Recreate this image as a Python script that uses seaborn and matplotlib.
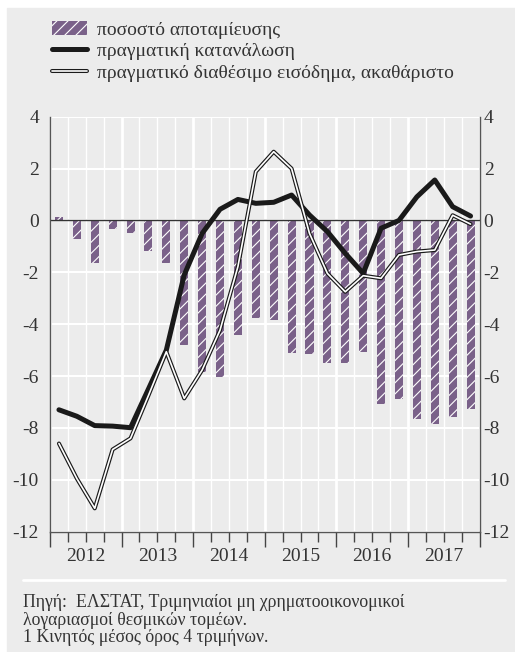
import numpy as np
import pandas as pd
import seaborn as sns
from matplotlib import pyplot as plt
from matplotlib.patches import Patch, Rectangle
from matplotlib.lines import Line2D
from matplotlib.legend_handler import HandlerTuple

years = [2012, 2013, 2014, 2015, 2016, 2017]
quarters = [f"{y}Q{q}" for y in years for q in range(1, 5)]

# ποσοστό αποταμίευσης
saving_rate = [0.15, -0.72, -1.65, -0.32, -0.47, -1.17, -1.65, -4.8,
               -5.83, -6.03, -4.42, -3.77, -3.84, -5.12, -5.16, -5.51,
               -5.51, -5.06, -7.09, -6.9, -7.67, -7.86, -7.57, -7.28]
# πραγματική κατανάλωση
consumption = [-7.3, -7.55, -7.91, -7.93, -7.99, -6.5, -5.0, -2.1,
               -0.5, 0.43, 0.81, 0.66, 0.70, 0.98, 0.21, -0.43,
               -1.27, -2.04, -0.3, 0.0, 0.91, 1.56, 0.53, 0.17]
# πραγματικό διαθέσιμο εισόδημα, ακαθάριστο
income = [-8.6, -9.95, -11.1, -8.83, -8.4, -6.75, -5.06, -6.86,
          -5.77, -4.23, -1.78, 1.88, 2.65, 2.0, -0.5, -2.04,
          -2.75, -2.13, -2.23, -1.33, -1.2, -1.14, 0.2, -0.14]

labels = ["ποσοστό αποταμίευσης", "πραγματική κατανάλωση",
          "πραγματικό διαθέσιμο εισόδημα, ακαθάριστο"]
footer = ["Πηγή:  ΕΛΣΤΑΤ, Τριμηνιαίοι μη χρηματοοικονομικοί",
          "λογαριασμοί θεσμικών τομέων.",
          "1 Κινητός μέσος όρος 4 τριμήνων."]

bg = "#ececec"
purple = "#7a6189"
txt = "#333333"

sns.set_theme(style="white")
plt.rcParams['font.family'] = ['Liberation Serif', 'DejaVu Serif']
plt.rcParams['axes.unicode_minus'] = False
plt.rcParams['hatch.linewidth'] = 0.8

df = pd.DataFrame({"pos": np.arange(len(quarters)), "quarter": quarters,
                   "saving": saving_rate, "consumption": consumption, "income": income})

fig = plt.figure(figsize=(5.15, 6.52), dpi=100)
fig.patches.append(Rectangle((7 / 515, 0), 1, 1 - 8 / 652, transform=fig.transFigure,
                             color=bg, zorder=-5))
ax = fig.add_axes([50 / 515, 1 - 531.7 / 652, 429.5 / 515, 415 / 652])
ax.set_facecolor(bg)
ax.set_axisbelow(True)

sns.barplot(data=df, x="pos", y="saving", native_scale=True, color=purple, saturation=1,
            width=0.45, hatch="///", edgecolor="white", linewidth=0, ax=ax)
ax.axhline(0, color="#333333", lw=1, zorder=1.5)
sns.lineplot(data=df, x="pos", y="consumption", color="#1a1a1a", lw=3.6, ax=ax)
sns.lineplot(data=df, x="pos", y="income", color="#1a1a1a", lw=2.9, ax=ax)
sns.lineplot(data=df, x="pos", y="income", color="white", lw=1.2, ax=ax)

ax.set_xlim(-0.5, len(quarters) - 0.5)
ax.set_ylim(-12, 4)
ax.set_yticks(range(-12, 5, 2))
ax.set_xticks(np.arange(-0.5, len(quarters), 4))
ax.set_xticks(np.arange(-0.5, len(quarters), 1), minor=True)
ax.set_xlabel("")
ax.set_ylabel("")
ax.grid(axis="x", which="minor", color="white", lw=1)
ax.grid(axis="x", which="major", color="white", lw=2)
ax.grid(axis="y", which="major", color="white", lw=1.5)
ax.tick_params(axis="x", which="major", bottom=True, length=11, width=1, color="#444444",
               labelbottom=False)
ax.tick_params(axis="x", which="minor", bottom=True, length=7, width=1, color="#444444")
ax.tick_params(axis="y", left=False, length=0, pad=8, labelsize=14, labelcolor=txt)
ax.spines["top"].set_visible(False)
for s in ["left", "right", "bottom"]:
    ax.spines[s].set_color("#555555")
    ax.spines[s].set_linewidth(1)

secx = ax.secondary_xaxis("bottom")
secx.set_xticks(np.arange(len(years)) * 4 + 1.5, labels=[str(y) for y in years])
secx.tick_params(length=0, pad=12, labelsize=14, labelcolor=txt)
secx.spines["bottom"].set_visible(False)

secy = ax.secondary_yaxis("right")
secy.set_yticks(range(-12, 5, 2))
secy.tick_params(length=0, pad=3, labelsize=14, labelcolor=txt)
secy.spines["right"].set_visible(False)

handles = [Patch(facecolor=purple, edgecolor="white", linewidth=0, hatch="///"),
           Line2D([], [], color="#1a1a1a", lw=3.6),
           (Line2D([], [], color="#1a1a1a", lw=2.9), Line2D([], [], color="white", lw=1.2))]
fig.legend(handles, labels, loc="upper left", bbox_to_anchor=(52 / 515, 1 - 21 / 652),
           frameon=False, fontsize=14, handlelength=1.8, handletextpad=0.5,
           labelspacing=0.2, borderpad=0, borderaxespad=0, labelcolor=txt,
           handler_map={tuple: HandlerTuple(ndivide=1)})

fig.add_artist(Line2D([23 / 515, 505 / 515], [1 - 580 / 652] * 2, color="white", lw=2,
                      transform=fig.transFigure))
for i, line in enumerate(footer):
    fig.text(23 / 515, 1 - (607 + 17.7 * i) / 652, line, fontsize=12.8, color=txt,
             va="baseline", ha="left")

fig.savefig("out.png", dpi=100)
